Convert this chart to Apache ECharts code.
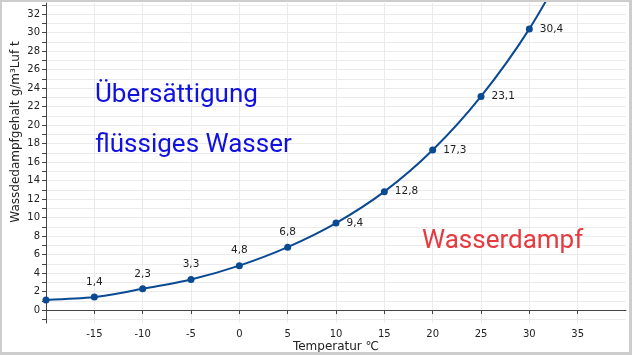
<!DOCTYPE html>
<html>
<head>
<meta charset="utf-8">
<script src="https://cdn.jsdelivr.net/npm/echarts@6/dist/echarts.min.js"></script>
<style>
html,body{margin:0;padding:0;background:#fff;}
#wrap{position:relative;width:632px;height:355px;}
#chart{position:absolute;left:0;top:0;width:632px;height:355px;}
#frame{position:absolute;left:0;top:0;width:632px;height:355px;box-sizing:border-box;border-style:solid;border-color:#cdcdcd;border-width:2px 3px 3px 2px;pointer-events:none;}
</style>
</head>
<body>
<div id="wrap"><div id="chart"></div><div id="frame"></div></div>
<script>
// Data
const temperatures = [-20, -15, -10, -5, 0, 5, 10, 15, 20, 25, 30, 35];
const vaporContent = [1.1, 1.4, 2.3, 3.3, 4.8, 6.8, 9.4, 12.8, 17.3, 23.1, 30.4, 39.6];
const labelAbove = [false, true, true, true, true, true, false, false, false, false, false, false];
const labelRight = [false, false, false, false, false, false, true, true, true, true, true, false];
const xTickLabels = [-15, -10, -5, 0, 5, 10, 15, 20, 25, 30, 35];
const yTickLabels = [0, 2, 4, 6, 8, 10, 12, 14, 16, 18, 20, 22, 24, 26, 28, 30, 32];
const yMinorTicks = [-1, 0, 1, 2, 3, 4, 5, 6, 7, 8, 9, 10, 11, 12, 13, 14, 15, 16, 17, 18, 19, 20, 21, 22, 23, 24, 25, 26, 27, 28, 29, 30, 31, 32, 33];
const xAxisTitle = 'Temperatur ℃';
const yAxisTitle = 'Wassdedampfgehalt g/m³Luf t';
const regionTexts = ['Übersättigung', 'flüssiges Wasser', 'Wasserdampf'];

const seriesData = temperatures.map((t, i) => {
  const item = { value: [t, vaporContent[i]] };
  if (labelAbove[i]) item.label = { show: true, position: 'top', distance: 6 };
  else if (labelRight[i]) item.label = { show: true, position: 'right', distance: 7 };
  else item.label = { show: false };
  return item;
});

const chart = echarts.init(document.getElementById('chart'), null, { renderer: 'canvas' });
const fmtComma = v => String(v).replace('.', ',');
const lineColor = '#0a4a93';

chart.setOption({
  animation: false,
  backgroundColor: '#fff',
  grid: { left: 46, right: 6, top: 3, bottom: 32, containLabel: false, outerBoundsMode: 'none' },
  xAxis: {
    type: 'value',
    min: -20,
    max: 40,
    interval: 5,
    name: xAxisTitle,
    nameLocation: 'middle',
    nameGap: 18,
    nameMoveOverlap: false,
    nameTextStyle: { fontFamily: 'DejaVu Sans', fontSize: 12, color: '#222' },
    axisLine: { onZero: true, lineStyle: { color: '#444', width: 1 } },
    axisTick: { show: true, length: 4, customValues: xTickLabels, lineStyle: { color: '#444' } },
    axisLabel: {
      customValues: xTickLabels,
      fontFamily: 'DejaVu Sans', fontSize: 10, color: '#222', margin: 6,
      formatter: v => String(v)
    },
    splitLine: { show: true, lineStyle: { color: '#ebebeb', width: 1 } }
  },
  yAxis: {
    type: 'value',
    min: -1.4,
    max: 33.2,
    splitNumber: 35,
    name: yAxisTitle,
    nameLocation: 'middle',
    nameGap: 24,
    nameMoveOverlap: false,
    nameTextStyle: { fontFamily: 'DejaVu Sans', fontSize: 12, color: '#222', padding: [0, 0, 0, 62] },
    axisLine: { show: true, onZero: false, lineStyle: { color: '#444', width: 1 } },
    axisTick: { show: true, length: 4, customValues: yMinorTicks, lineStyle: { color: '#444' } },
    axisLabel: {
      customValues: yTickLabels,
      fontFamily: 'DejaVu Sans', fontSize: 10, color: '#222', margin: 6,
      formatter: v => String(v)
    },
    splitLine: { show: true, lineStyle: { color: '#ebebeb', width: 1 } }
  },
  series: [{
    type: 'line',
    data: seriesData,
    smooth: 0.3,
    symbol: 'circle',
    symbolSize: 7,
    clip: true,
    lineStyle: { color: lineColor, width: 2 },
    itemStyle: { color: lineColor },
    label: {
      fontFamily: 'DejaVu Sans', fontSize: 10.5, color: '#222',
      formatter: p => fmtComma(p.value[1])
    }
  }],
  graphic: [
    { type: 'text', z: 100, left: 95, top: 82, style: { text: regionTexts[0], fontFamily: 'Roboto', fontSize: 26, fill: '#1212e0' } },
    { type: 'text', z: 100, left: 95, top: 132, style: { text: regionTexts[1], fontFamily: 'Roboto', fontSize: 26, fill: '#1212e0' } },
    { type: 'text', z: 100, left: 422, top: 228, style: { text: regionTexts[2], fontFamily: 'Roboto', fontSize: 26, fill: '#e63a3e' } }
  ]
});
</script>
</body>
</html>
